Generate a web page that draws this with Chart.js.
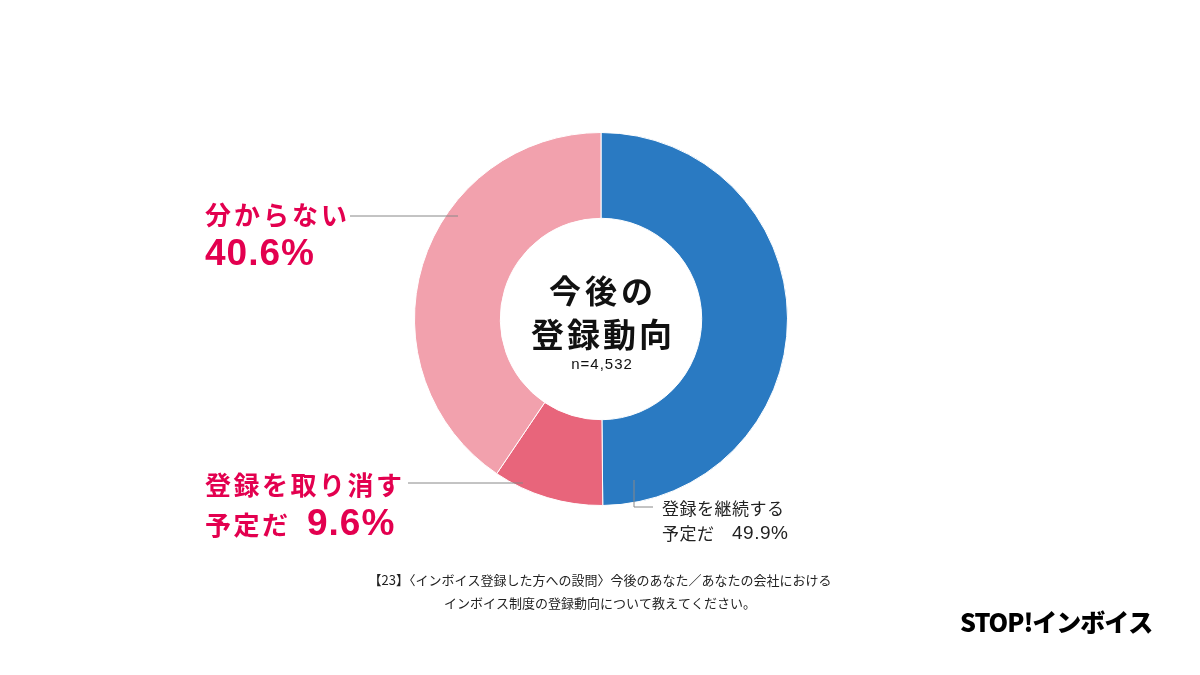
<!DOCTYPE html>
<html lang="ja">
<head>
<meta charset="utf-8">
<title>今後の登録動向</title>
<script src="https://cdn.jsdelivr.net/npm/chart.js@4/dist/chart.umd.min.js"></script>
<style>
  html, body { margin: 0; padding: 0; background: #fff; }
  #wrap { width: 1200px; height: 675px; position: relative; }
</style>
</head>
<body>
<div id="wrap"><canvas id="graficoRegistro" width="1200" height="675"></canvas></div>
<script>
// === DADOS ===
const categorias = ['登録を継続する予定だ', '登録を取り消す予定だ', '分からない'];
const valores = [49.9, 9.6, 40.6];
const cores = ['#2a7ac2', '#e8657b', '#f2a1ad'];
const titulo = ['今後の', '登録動向'];
const amostra = 'n=4,532';
const pergunta = [
  '【23】〈インボイス登録した方への設問〉今後のあなた／あなたの会社における',
  'インボイス制度の登録動向について教えてください。'
];

const FONTE = '"Noto Sans CJK JP", "Noto Sans", sans-serif';
const NUM = '"Liberation Sans", Arial, sans-serif';
const ROSA = '#e3004f';

// === TEXTOS E LINHAS ===
const rotulos = {
  id: 'rotulos',
  afterDraw(chart) {
    const ctx = chart.ctx;
    const arc = chart.getDatasetMeta(0).data[0];
    const cx = arc.x, cy = arc.y;
    const pct = v => v.toFixed(1) + '%';

    ctx.save();
    ctx.textBaseline = 'middle';

    // centro
    ctx.fillStyle = '#111';
    ctx.textAlign = 'center';
    ctx.font = 'bold 32px ' + FONTE;
    ctx.letterSpacing = '4px';
    ctx.fillText(titulo[0], cx + 2, cy - 28);
    ctx.font = 'bold 33px ' + FONTE;
    ctx.letterSpacing = '3px';
    ctx.fillText(titulo[1], cx + 2, cy + 15);
    ctx.letterSpacing = '1px';
    ctx.font = '15px ' + NUM;
    ctx.fillText(amostra, cx + 1, cy + 46);

    // linhas de chamada
    ctx.strokeStyle = '#888';
    ctx.lineWidth = 1;
    ctx.beginPath();
    ctx.moveTo(350, cy - 103); ctx.lineTo(cx - 143, cy - 103);
    ctx.moveTo(408, cy + 164); ctx.lineTo(cx - 78, cy + 164);
    ctx.moveTo(cx + 33, cy + 161); ctx.lineTo(cx + 33, cy + 188); ctx.lineTo(cx + 52, cy + 188);
    ctx.stroke();

    // rótulos à esquerda
    ctx.textAlign = 'left';
    ctx.fillStyle = ROSA;
    ctx.letterSpacing = '3px';
    ctx.font = 'bold 26px ' + FONTE;
    ctx.fillText(categorias[2], 205, 215);
    ctx.letterSpacing = '1px';
    ctx.font = 'bold 37px ' + NUM;
    ctx.fillText(pct(valores[2]), 205, 255);

    ctx.letterSpacing = '2.5px';
    ctx.font = 'bold 26px ' + FONTE;
    ctx.fillText('登録を取り消す', 205, 485);
    ctx.fillText('予定だ', 205, 525);
    ctx.letterSpacing = '1px';
    ctx.font = 'bold 37px ' + NUM;
    ctx.fillText(pct(valores[1]), 307, 525);

    // rótulo à direita
    ctx.fillStyle = '#222';
    ctx.font = '17px ' + FONTE;
    ctx.letterSpacing = '0.5px';
    ctx.fillText('登録を継続する', 662, 509);
    ctx.fillText('予定だ', 662, 534);
    ctx.letterSpacing = '0.5px';
    ctx.font = '19px ' + NUM;
    ctx.fillText(pct(valores[0]), 732, 534);

    // pergunta
    ctx.textAlign = 'center';
    ctx.fillStyle = '#222';
    ctx.letterSpacing = '0px';
    ctx.font = '13px ' + FONTE;
    ctx.fillText(pergunta[0], 600, 580);
    ctx.fillText(pergunta[1], 600, 603);

    // logo
    ctx.textAlign = 'left';
    ctx.fillStyle = '#000';
    ctx.font = '900 25px ' + FONTE;
    ctx.letterSpacing = '-1px';
    ctx.fillText('STOP!インボイス', 960, 622);
    ctx.restore();
  }
};

const ctxRegistro = document.getElementById('graficoRegistro').getContext('2d');
new Chart(ctxRegistro, {
  type: 'doughnut',
  data: {
    labels: categorias,
    datasets: [{
      data: valores,
      backgroundColor: cores,
      borderColor: '#ffffff',
      borderWidth: 1
    }]
  },
  options: {
    responsive: false,
    animation: false,
    devicePixelRatio: 1,
    cutout: '54%',
    layout: { padding: { left: 414, right: 412, top: 132, bottom: 169 } },
    plugins: {
      legend: { display: false },
      tooltip: { enabled: false }
    }
  },
  plugins: [rotulos]
});
</script>
</body>
</html>
